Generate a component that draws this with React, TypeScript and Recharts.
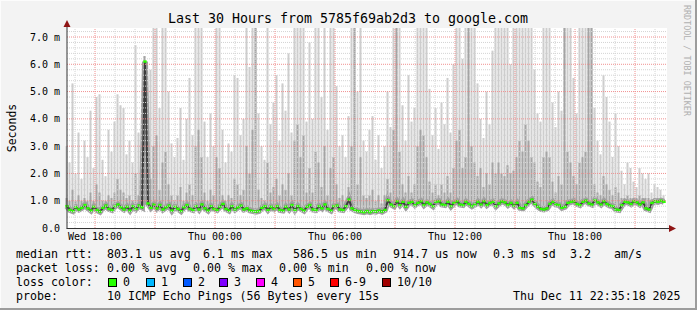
import React from 'react';
import { ComposedChart, Bar, Line, XAxis, YAxis, CartesianGrid, ReferenceLine } from 'recharts';

const W = 697;
const H = 310;
const MONO = '"DejaVu Sans Mono", monospace';

// 30 hours, one sample every 9 minutes (0.15 h), starting Wed 16:35
const STEP_HOURS = 0.15;

const timeLabels = ['Wed 18:00', 'Thu 00:00', 'Thu 06:00', 'Thu 12:00', 'Thu 18:00'];
const timeTicks = [1.4, 7.4, 13.4, 19.4, 25.4];
const yTicks = [0, 1, 2, 3, 4, 5, 6, 7];

// median rtt, ms
const median = [
  0.80, 0.66, 0.62, 0.76, 0.68, 0.74, 0.84, 0.72, 0.64, 0.78,
  0.66, 0.60, 0.74, 0.82, 0.70, 0.66, 0.80, 0.86, 0.76, 0.68,
  0.78, 0.64, 0.80, 0.70, 0.82, 0.76, 6.10, 0.90, 0.74, 0.86,
  0.72, 0.84, 0.68, 0.76, 0.82, 0.64, 0.78, 0.70, 0.62, 0.76,
  0.84, 0.70, 0.66, 0.80, 0.68, 0.86, 0.72, 0.64, 0.80, 0.70,
  0.66, 0.78, 0.88, 0.70, 0.64, 0.80, 0.68, 0.76, 0.82, 0.68,
  0.72, 0.64, 0.62, 0.60, 0.62, 0.74, 0.80, 0.66, 0.78, 0.70,
  0.80, 0.66, 0.64, 0.78, 0.68, 0.84, 0.66, 0.80, 0.70, 0.64,
  0.78, 0.84, 0.68, 0.66, 0.80, 0.72, 0.86, 0.70, 0.64, 0.80,
  0.82, 0.68, 0.66, 0.80, 1.04, 0.72, 0.66, 0.62, 0.60, 0.58,
  0.62, 0.58, 0.62, 0.60, 0.64, 0.60, 0.66,
  1.02, 0.86, 0.80, 0.98, 0.84, 0.96, 0.78, 0.92, 0.96, 0.84,
  0.92, 0.98, 0.84, 0.94, 0.88, 0.80, 0.96, 0.98, 0.86, 0.84,
  0.96, 0.80, 0.92, 0.98, 0.86, 0.84, 0.96, 0.88, 0.80, 0.86,
  0.96, 0.86, 0.98, 0.84, 0.92, 0.96, 0.80, 0.90, 0.98, 0.94,
  0.84, 0.92, 0.82, 0.92, 0.74, 0.72, 0.84, 0.96, 1.04, 0.88,
  0.78, 0.70, 0.68, 0.72, 0.88, 0.96, 0.86, 0.84, 0.74, 0.78,
  0.92, 0.96, 0.98, 0.88, 0.84, 0.96, 1.00, 0.90, 0.86, 1.02,
  0.94, 0.86, 0.98, 0.88, 0.82, 0.80, 0.68, 0.66, 0.84, 0.96,
  0.94, 0.88, 0.98, 0.94, 0.86, 0.94, 0.72, 0.68, 0.92, 0.98,
  0.96, 1.00, 0.96,
];

// outer smoke (slowest pings), ms; 7.4 = off the top
const smokeHigh = [
  3.0, 2.4, 5.3, 2.0, 3.5, 1.8, 3.2, 2.6, 4.3, 2.2,
  4.8, 4.9, 2.5, 1.9, 3.6, 2.8, 3.9, 4.9, 4.5, 4.4,
  2.7, 3.2, 2.4, 6.7, 3.5, 2.9, 6.3, 4.0, 5.8, 7.4,
  7.4, 4.4, 7.4, 7.4, 5.0, 3.1, 2.6, 3.3, 4.4, 2.5,
  4.0, 5.5, 3.4, 7.4, 7.4, 7.4, 3.9, 2.6, 4.2, 3.0,
  7.4, 7.4, 3.6, 2.4, 3.1, 2.8, 5.6, 5.5, 3.4, 4.0,
  7.4, 5.9, 7.4, 7.4, 4.2, 3.0, 2.5, 7.4, 3.8, 4.6,
  5.6, 3.2, 5.3, 4.3, 6.4, 3.5, 7.4, 7.4, 7.4, 7.4,
  3.9, 6.8, 4.0, 7.4, 7.4, 4.8, 7.4, 3.6, 7.4, 7.4,
  5.2, 3.0, 3.4, 2.6, 4.1, 7.4, 7.4, 5.0, 7.4, 3.2,
  2.8, 3.6, 4.1, 2.5, 3.4, 2.2, 3.0, 5.0, 3.7, 7.4,
  7.4, 7.4, 4.5, 3.2, 5.6, 3.9, 4.4, 7.4, 7.4, 7.4,
  7.4, 5.1, 3.4, 4.4, 2.9, 4.6, 3.8, 5.5, 3.5, 6.0,
  7.4, 7.4, 6.2, 7.4, 7.4, 7.4, 7.4, 5.3, 4.0, 3.3,
  5.0, 3.8, 6.5, 7.4, 7.4, 7.4, 7.4, 7.4, 6.0, 7.4,
  7.4, 7.4, 7.4, 7.4, 7.4, 7.4, 5.8, 4.2, 3.9, 7.4,
  7.4, 7.4, 4.6, 3.7, 5.0, 4.3, 7.4, 7.4, 7.4, 5.5,
  4.2, 7.4, 7.4, 7.4, 7.4, 7.4, 4.4, 3.2, 2.7, 5.6,
  4.8, 3.9, 2.6, 4.2, 3.0, 2.1, 1.6, 2.4, 2.2, 1.7,
  1.5, 2.2, 2.0, 1.8, 2.0, 1.3, 1.6, 1.5, 1.4, 1.2,
];

// inner smoke, ms
const smokeMid = [
  1.1, 1.0, 1.4, 1.0, 1.2, 1.0, 1.1, 1.0, 1.3, 1.0,
  1.6, 1.3, 1.0, 1.0, 1.2, 1.1, 1.3, 1.8, 1.4, 1.3,
  1.1, 1.2, 1.0, 2.0, 1.2, 1.1, 6.3, 1.4, 1.8, 3.0,
  3.4, 1.4, 2.4, 2.8, 1.6, 1.2, 1.0, 1.2, 1.5, 1.0,
  1.3, 1.6, 1.2, 3.0, 3.6, 2.6, 1.3, 1.0, 1.4, 1.2,
  2.6, 2.2, 1.2, 1.0, 1.2, 1.1, 1.8, 1.6, 1.2, 1.4,
  3.0, 2.0, 3.6, 7.4, 1.4, 1.1, 1.0, 2.4, 1.3, 1.5,
  1.8, 1.2, 1.6, 1.4, 2.0, 1.2, 3.2, 3.8, 2.6, 3.4,
  1.3, 2.2, 1.3, 2.8, 2.4, 1.5, 3.0, 1.2, 2.2, 2.6,
  1.6, 1.1, 1.2, 1.0, 1.5, 3.0, 7.4, 1.6, 2.6, 1.2,
  1.1, 1.2, 1.4, 1.0, 1.2, 0.9, 1.2, 1.8, 1.3, 3.6,
  7.4, 2.8, 1.6, 1.3, 1.9, 1.3, 1.6, 3.0, 3.6, 3.4,
  2.6, 1.7, 1.3, 1.6, 1.2, 1.6, 1.3, 1.9, 1.3, 2.2,
  3.2, 3.6, 2.2, 2.6, 7.4, 3.0, 2.4, 1.9, 2.2, 1.5,
  2.0, 1.6, 2.4, 2.0, 2.4, 2.0, 1.9, 2.3, 2.0, 2.1,
  2.6, 3.2, 2.8, 3.8, 3.2, 2.6, 2.4, 1.7, 1.5, 2.6,
  2.8, 2.6, 1.7, 1.3, 1.9, 1.6, 7.4, 2.8, 2.4, 1.9,
  1.6, 2.4, 2.6, 2.8, 7.4, 7.4, 1.6, 1.3, 1.2, 1.9,
  1.6, 1.4, 1.2, 1.5, 1.3, 1.1, 1.1, 1.2, 1.1, 1.1,
  1.1, 1.2, 1.1, 1.1, 1.1, 1.05, 1.1, 1.1, 1.05, 1.05,
];

const rttStats = ['803.1 us avg', '6.1 ms max', '586.5 us min', '914.7 us now', '0.3 ms sd', '3.2', 'am/s'];
const lossStats = ['0.00 % avg', '0.00 % max', '0.00 % min', '0.00 % now'];
const lossLabels = ['0', '1', '2', '3', '4', '5', '6-9', '10/10'];
const lossColors = ['#26ff00', '#00b8ff', '#0059ff', '#7e00ff', '#ff00ff', '#ff5500', '#ff0000', '#a10000'];
const probeText = '10 ICMP Echo Pings (56 Bytes) every 15s';
const stampText = 'Thu Dec 11 22:35:18 2025';

const data = median.map((m, i) => ({
  t: i * STEP_HOURS,
  med: m,
  hi: [m, smokeHigh[i]],
  mid: [m, smokeMid[i]],
}));

// grid positions (hourly minor, 3-hourly major)
const hourLines = Array.from({ length: 30 }, (_, i) => 0.4 + i);
const majorHours = hourLines.filter((_, i) => (i - 1) % 3 === 0);
const minorHours = hourLines.filter(v => !majorHours.includes(v));
const minorY = Array.from({ length: 36 }, (_, i) => +(0.2 * (i + 1)).toFixed(1)).filter(v => v % 1 !== 0);
const majorY = [1, 2, 3, 4, 5, 6, 7];

const fmtY = (v: number) => (v === 0 ? '0.0' : `${v.toFixed(1)} m`);
const fmtX = (v: number) => timeLabels[timeTicks.indexOf(v)] ?? '';

const rttX = [107, 203, 293, 393, 493, 570, 614];
const lossX = [107, 193, 279, 366];
const boxX = [108, 146, 183, 219, 256, 293, 330, 382];

// median drawn as short green dashes, rrdtool style
const MedianDot = (p: any) => (
  <rect key={`md${p.index}`} x={p.cx - 1.7} y={p.cy - 1.2} width={3.4} height={2.4} fill="#2cff00" />
);

export default function App() {
  const txt = { fontFamily: MONO, fontSize: 11.6, fill: '#000' };
  const grid = { strokeDasharray: '1 1', zIndex: 800 } as any;
  return (
    <div style={{ position: 'absolute', left: 0, top: 0, width: W, height: H, background: '#f3f3f3', overflow: 'hidden' }}>
      <ComposedChart width={W} height={H} data={data} margin={{ top: 28, right: 30, bottom: 62, left: 0 }}>
        <CartesianGrid horizontal={false} vertical={false} fill="#ffffff" />
        <XAxis
          dataKey="t"
          type="number"
          domain={[0, 30]}
          ticks={timeTicks}
          interval={0}
          tickFormatter={fmtX}
          axisLine={false}
          tickLine={false}
          tickSize={4}
          tickMargin={1}
          height={20}
          tick={{ fontFamily: MONO, fontSize: 10, fill: '#000' }}
        />
        <XAxis xAxisId="inner" dataKey="t" type="number" domain={[0, 30]} hide />
        <YAxis
          type="number"
          domain={[0, 7.33]}
          allowDataOverflow
          ticks={yTicks}
          interval={0}
          tickFormatter={fmtY}
          width={67}
          axisLine={false}
          tickLine={false}
          tickSize={0}
          tickMargin={7}
          tick={{ fontFamily: MONO, fontSize: 10, fill: '#000' }}
        />
        <Bar dataKey="hi" barSize={2} fill="#cdcdcd" isAnimationActive={false} />
        <Bar dataKey="mid" xAxisId="inner" barSize={2} fill="#a4a4a4" isAnimationActive={false} />
        <Line dataKey="med" type="linear" stroke="#a0a0a0" strokeWidth={6} dot={false} activeDot={false} isAnimationActive={false} />
        <Line dataKey="med" type="linear" stroke="#3c3c3c" strokeWidth={2} dot={MedianDot} activeDot={false} isAnimationActive={false} />
        {minorY.map(v => (
          <ReferenceLine key={`hy${v}`} y={v} stroke="#d4d4d4" {...grid} />
        ))}
        {minorHours.map(v => (
          <ReferenceLine key={`vx${v}`} x={v} stroke="#d4d4d4" {...grid} />
        ))}
        {majorY.map(v => (
          <ReferenceLine key={`my${v}`} y={v} stroke="#f09090" {...grid} />
        ))}
        {majorHours.map(v => (
          <ReferenceLine key={`mx${v}`} x={v} stroke="#f09090" {...grid} />
        ))}
      </ComposedChart>

      <svg width={W} height={H} style={{ position: 'absolute', left: 0, top: 0, pointerEvents: 'none' }}>
        <text x={348} y={23} textAnchor="middle" style={{ fontFamily: MONO, fontSize: 13.3 }} fill="#000">
          Last 30 Hours from 5785f69ab2d3 to google.com
        </text>
        <text x={16} y={128} textAnchor="middle" transform="rotate(-90 16 128)" style={{ fontFamily: MONO, fontSize: 11.5 }} fill="#000">
          Seconds
        </text>
        <text x={684} y={5} transform="rotate(90 684 5)" style={{ fontFamily: MONO, fontSize: 8.4 }} fill="#b0b0b0">
          RRDTOOL / TOBI OETIKER
        </text>

        {/* axes with arrows */}
        <line x1={67} y1={228.5} x2={67} y2={24} stroke="#333" strokeWidth={1} />
        <line x1={66.5} y1={228.5} x2={671} y2={228.5} stroke="#333" strokeWidth={1} />
        <polygon points="63.5,27 70.5,27 67,20" fill="#8f1414" />
        <polygon points="669,225 669,232 676,228.5" fill="#8f1414" />

        {/* legend */}
        <text x={16} y={258} style={txt}>median rtt:</text>
        {rttStats.map((s, i) => (
          <text key={s} x={rttX[i]} y={258} style={txt}>{s}</text>
        ))}
        <text x={16} y={272} style={txt}>packet loss:</text>
        {lossStats.map((s, i) => (
          <text key={s} x={lossX[i]} y={272} style={txt}>{s}</text>
        ))}
        <text x={16} y={286} style={txt}>loss color:</text>
        {lossLabels.map((s, i) => (
          <g key={s}>
            <rect x={boxX[i] + 0.5} y={278.5} width={8} height={8} fill={lossColors[i]} stroke="#000" strokeWidth={1} />
            <text x={boxX[i] + 15} y={286} style={txt}>{s}</text>
          </g>
        ))}
        <text x={16} y={300} style={txt}>probe:</text>
        <text x={107} y={300} style={txt}>{probeText}</text>
        <text x={513} y={300} style={txt}>{stampText}</text>

        {/* frame */}
        <rect x={0} y={0} width={W} height={1} fill="#fcfcfc" />
        <rect x={0} y={0} width={1} height={H} fill="#fcfcfc" />
        <rect x={W - 2} y={0} width={2} height={H} fill="#9c9c9c" />
        <rect x={0} y={H - 2} width={W} height={2} fill="#9c9c9c" />
      </svg>
    </div>
  );
}
